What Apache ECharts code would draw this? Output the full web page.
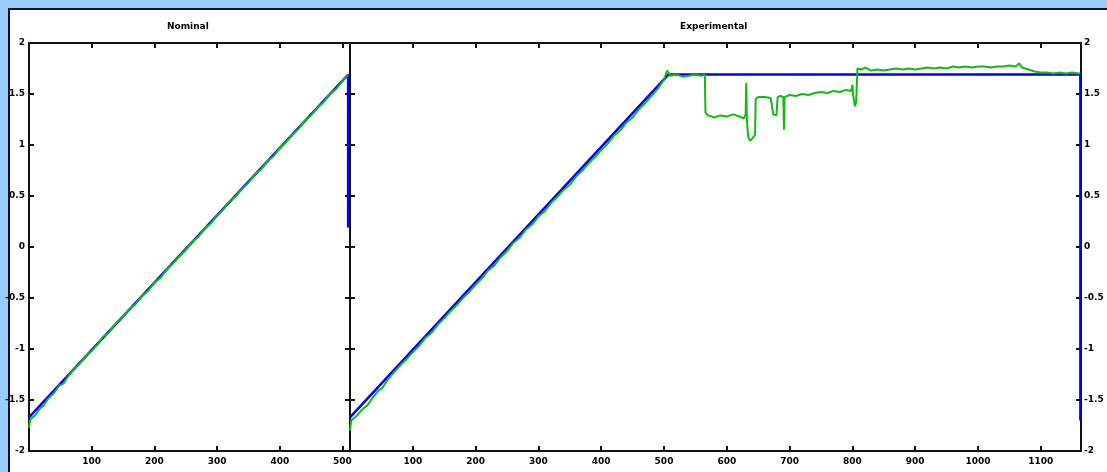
<!DOCTYPE html>
<html>
<head>
<meta charset="utf-8">
<script src="https://cdn.jsdelivr.net/npm/echarts@6/dist/echarts.min.js"></script>
<style>
  html, body { margin:0; padding:0; background:#99ccff; }
  #bg { position:absolute; left:8px; top:8px; width:1099px; height:464px; background:#fff;
        border-left:2px solid #111; border-top:2px solid #111; }
  #chart { position:absolute; left:0; top:0; width:1107px; height:472px; }
</style>
</head>
<body>
<div id="bg"></div>
<div id="chart"></div>
<script>
// ---- Data ----
const panelTitles = ['Nominal', 'Experimental'];
const yTicks = [-2, -1.5, -1, -0.5, 0, 0.5, 1, 1.5, 2];
const nominalXMax = 512;
const experimentalXMax = 1164;

// Nominal: reference (blue) and measured (green)
const nominalReference = [[0, -1.67], [509, 1.69], [509, 0.19]];
const nominalMeasured = [
  [0, -1.77], [2, -1.69], [10, -1.65], [18, -1.58], [24, -1.55], [30, -1.49], [40, -1.43],
  [48, -1.36], [55, -1.34], [62, -1.27], [70, -1.21], [80, -1.15], [90, -1.07], [100, -1.02],
  [110, -0.95], [118, -0.88], [126, -0.85], [134, -0.78], [140, -0.74], [150, -0.68],
  [160, -0.61], [170, -0.56], [180, -0.48], [190, -0.43], [200, -0.35], [210, -0.30],
  [220, -0.22], [230, -0.16], [240, -0.09], [250, -0.03], [260, 0.05], [270, 0.10],
  [280, 0.18], [290, 0.23], [300, 0.31], [310, 0.37], [320, 0.45], [330, 0.50],
  [340, 0.57], [350, 0.63], [360, 0.71], [370, 0.76], [380, 0.84], [390, 0.89],
  [400, 0.97], [410, 1.03], [420, 1.10], [430, 1.16], [440, 1.24], [450, 1.29],
  [460, 1.37], [470, 1.42], [480, 1.50], [490, 1.55], [500, 1.63], [509, 1.69]
];

// Experimental: reference (blue) and measured (green)
const experimentalReference = [[0, -1.67], [507, 1.69], [1163, 1.69], [1163, -1.70]];
const experimentalMeasured = [
  [0, -1.80], [2, -1.70], [10, -1.66], [20, -1.59], [28, -1.55], [36, -1.48], [45, -1.41],
  [52, -1.38], [60, -1.30], [70, -1.23], [80, -1.16], [90, -1.10], [100, -1.03],
  [110, -0.97], [120, -0.89], [130, -0.84], [140, -0.76], [150, -0.70], [160, -0.63],
  [170, -0.57], [180, -0.50], [190, -0.44], [200, -0.37], [210, -0.31], [220, -0.23],
  [230, -0.18], [240, -0.10], [250, -0.04], [260, 0.04], [270, 0.09], [280, 0.17],
  [290, 0.22], [300, 0.30], [310, 0.35], [320, 0.43], [330, 0.49], [340, 0.56],
  [350, 0.61], [360, 0.69], [370, 0.75], [380, 0.82], [390, 0.88], [400, 0.95],
  [410, 1.01], [420, 1.09], [430, 1.14], [440, 1.22], [450, 1.27], [460, 1.35],
  [470, 1.41], [480, 1.48], [490, 1.55], [500, 1.64], [505, 1.73], [510, 1.68],
  [520, 1.69], [530, 1.67], [540, 1.68], [550, 1.69], [560, 1.68], [565, 1.69],
  [566, 1.32], [570, 1.29], [580, 1.27], [590, 1.29], [600, 1.28], [610, 1.30],
  [620, 1.28], [627, 1.26], [630, 1.30], [631, 1.61], [632, 1.25], [634, 1.08],
  [637, 1.04], [640, 1.06], [643, 1.05], [645, 1.10], [646, 1.45], [650, 1.47],
  [660, 1.47], [670, 1.46], [673, 1.47], [674, 1.30], [679, 1.29], [680, 1.30],
  [681, 1.47], [685, 1.48], [690, 1.47], [691, 1.15], [692, 1.47], [700, 1.49],
  [710, 1.48], [720, 1.50], [730, 1.49], [740, 1.51], [750, 1.52], [760, 1.51],
  [770, 1.53], [780, 1.52], [790, 1.54], [798, 1.53], [800, 1.59], [801, 1.50],
  [804, 1.38], [806, 1.42], [808, 1.75], [815, 1.74], [820, 1.76], [830, 1.73],
  [840, 1.74], [850, 1.73], [860, 1.74], [870, 1.75], [880, 1.74], [890, 1.75],
  [900, 1.74], [910, 1.75], [920, 1.76], [930, 1.75], [940, 1.76], [950, 1.75],
  [960, 1.77], [970, 1.76], [980, 1.77], [990, 1.76], [1000, 1.77], [1010, 1.77],
  [1020, 1.76], [1030, 1.77], [1040, 1.77], [1050, 1.78], [1060, 1.77], [1066, 1.80],
  [1070, 1.76], [1080, 1.74], [1090, 1.72], [1100, 1.71], [1110, 1.71], [1120, 1.70],
  [1130, 1.71], [1140, 1.70], [1150, 1.71], [1160, 1.70], [1163, 1.70]
];

// ---- Chart ----
const chart = echarts.init(document.getElementById('chart'));
const labelStyle = { color: '#000', fontSize: 9, fontWeight: 'bold', fontFamily: 'DejaVu Sans' };
const lineStyle = { color: '#111', width: 2 };

function xAxisPair(gridIndex, max) {
  const base = {
    gridIndex, type: 'value', min: 0, max, interval: 100,
    axisLine: { show: true, onZero: false, lineStyle }, splitLine: { show: false },
    axisTick: { show: true, inside: true, length: 5, lineStyle: { color: '#111', width: 2 } }
  };
  return [
    Object.assign({}, base, { position: 'bottom',
      axisLabel: Object.assign({ show: true, margin: 6, showMinLabel: false, showMaxLabel: false,
        formatter: v => String(v) }, labelStyle) }),
    Object.assign({}, base, { position: 'top', axisLabel: { show: false } })
  ];
}
function yAxisPair(gridIndex, labelSide) {
  const base = {
    gridIndex, type: 'value', min: yTicks[0], max: yTicks[yTicks.length - 1], interval: 0.5,
    axisLine: { show: true, onZero: false, lineStyle }, splitLine: { show: false },
    axisTick: { show: true, inside: true, length: 5, lineStyle: { color: '#111', width: 2 } }
  };
  return [
    Object.assign({}, base, { position: 'left',
      axisLabel: labelSide === 'left' ? Object.assign({ show: true, margin: 4 }, labelStyle) : { show: false } }),
    Object.assign({}, base, { position: 'right',
      axisLabel: labelSide === 'right' ? Object.assign({ show: true, margin: 3 }, labelStyle) : { show: false } })
  ];
}

const greenLine = { color: '#11bb11', width: 2 };
const blueLine = { color: '#0000ff', width: 2.5 };
const titleStyle = { fontSize: 9, fontWeight: 'bold', color: '#000', fontFamily: 'DejaVu Sans' };

chart.setOption({
  animation: false,
  backgroundColor: 'transparent',
  title: [
    { text: panelTitles[0], left: 167, top: 22, padding: 0, textStyle: titleStyle },
    { text: panelTitles[1], left: 680, top: 22, padding: 0, textStyle: titleStyle }
  ],
  grid: [
    { left: 29, right: 757, top: 43, bottom: 21 },
    { left: 350, right: 26, top: 43, bottom: 21 }
  ],
  xAxis: [...xAxisPair(0, nominalXMax), ...xAxisPair(1, experimentalXMax)],
  yAxis: [...yAxisPair(0, 'left'), ...yAxisPair(1, 'right')],
  series: [
    { type: 'line', xAxisIndex: 0, yAxisIndex: 0, data: nominalReference, showSymbol: false, lineStyle: blueLine, z: 3 },
    { type: 'line', xAxisIndex: 0, yAxisIndex: 0, data: nominalMeasured, showSymbol: false, lineStyle: greenLine, z: 4 },
    { type: 'line', xAxisIndex: 2, yAxisIndex: 2, data: experimentalReference, showSymbol: false, lineStyle: blueLine, z: 3 },
    { type: 'line', xAxisIndex: 2, yAxisIndex: 2, data: experimentalMeasured, showSymbol: false, lineStyle: greenLine, z: 4 }
  ]
});
</script>
</body>
</html>
